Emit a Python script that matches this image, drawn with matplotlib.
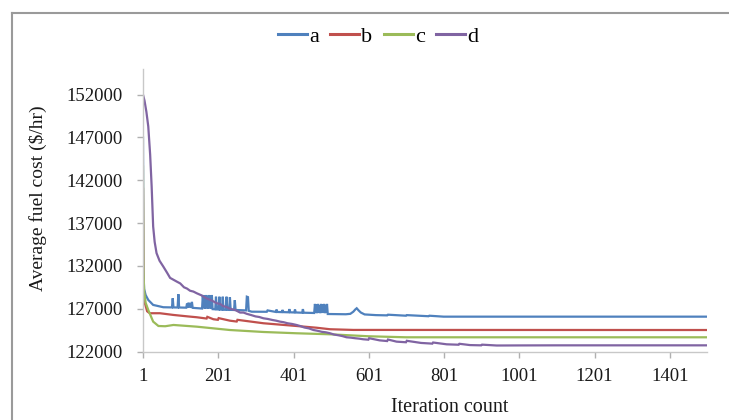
import matplotlib
matplotlib.use("Agg")
import matplotlib.pyplot as plt
from matplotlib.lines import Line2D

plt.rcParams['font.family'] = ['Liberation Serif', 'DejaVu Serif']

# ---------------- data ----------------
series_names = ["a", "b", "c", "d"]
series_colors = ["#4F81BD", "#C0504D", "#9BBB59", "#8064A2"]

a_iter = [1, 2, 4, 8, 15, 28, 55, 78, 80, 82, 93, 95, 97, 116, 118, 120, 122, 124, 126,
          129, 131, 133, 158, 160, 162, 164, 166, 168, 170, 172, 174, 176, 178, 180, 182,
          184, 186, 193, 195, 197, 202, 204, 206, 211, 213, 215, 221, 223, 225, 230, 232,
          234, 243, 245, 247, 275, 277, 280, 282, 290, 330, 332, 354, 356, 358, 370, 372,
          374, 388, 390, 392, 403, 405, 407, 424, 426, 428, 456, 458, 460, 462, 464, 466,
          468, 470, 472, 474, 476, 478, 480, 482, 484, 486, 488, 490, 492, 540, 552, 560,
          565, 569, 574, 580, 590, 620, 650, 652, 700, 702, 760, 762, 800, 1500]
a_vals = [147000, 131500, 129300, 128600, 128020, 127440, 127170, 127150, 128220, 127150,
          127140, 128700, 127140, 127120, 127600, 127150, 127700, 127150, 127650, 127100,
          127800, 127100, 127020, 128600, 127050, 128550, 127000, 128600, 127050, 128500,
          127000, 128600, 127050, 128550, 127000, 128600, 126950, 126930, 128400, 126930,
          126900, 128400, 126900, 126880, 128400, 126880, 126870, 128400, 126870, 126860,
          128350, 126860, 126850, 128000, 126850, 126800, 128400, 128350, 126750, 126650,
          126640, 126800, 126620, 126900, 126620, 126600, 126850, 126600, 126580, 126950,
          126580, 126560, 126900, 126560, 126530, 126950, 126530, 126500, 127560, 126500,
          127500, 126480, 127560, 126550, 127400, 126480, 127560, 126500, 127500, 126550,
          127560, 126480, 127450, 126500, 127560, 126380, 126350, 126400, 126650, 126900,
          127050, 126800, 126550, 126330, 126250, 126220, 126300, 126180, 126250, 126120,
          126180, 126070, 126070]

b_iter = [1, 2, 4, 6, 12, 19, 46, 82, 120, 144, 170, 172, 188, 200, 202, 232, 250, 252,
          321, 409, 462, 498, 560, 1500]
b_vals = [141000, 131000, 128200, 127640, 126700, 126470, 126470, 126270, 126100, 126000,
          125850, 126050, 125770, 125700, 125900, 125600, 125500, 125700, 125300, 124980,
          124780, 124600, 124520, 124510]

c_iter = [1, 2, 4, 8, 15, 28, 42, 60, 82, 144, 232, 321, 409, 498, 600, 700, 1500]
c_vals = [143600, 132000, 129000, 127700, 126850, 125490, 124980, 124950, 125100, 124900,
          124510, 124280, 124130, 124010, 123780, 123660, 123660]

d_iter = [1, 5, 10, 15, 20, 24, 28, 32, 37, 45, 55, 65, 73, 91, 100, 110, 118, 126, 135,
          144, 157, 170, 184, 197, 206, 214, 223, 232, 246, 259, 268, 277, 289, 300, 310,
          321, 333, 345, 355, 365, 375, 385, 397, 409, 420, 430, 442, 454, 465, 476, 487,
          498, 509, 520, 531, 542, 553, 565, 576, 586, 600, 602, 630, 650, 652, 675, 700,
          702, 740, 770, 772, 808, 840, 842, 870, 900, 902, 941, 1000, 1100, 1500]
d_vals = [152000, 151300, 150000, 148290, 145000, 141270, 136600, 134800, 133490, 132600,
          131920, 131200, 130600, 130160, 129950, 129500, 129350, 129100, 129000, 128800,
          128550, 128200, 127950, 127640, 127550, 127300, 127200, 127000, 126850, 126550,
          126550, 126400, 126250, 126100, 126030, 125880, 125800, 125680, 125600, 125490,
          125420, 125300, 125220, 125100, 124960, 124800, 124700, 124510, 124420, 124300,
          124240, 124130, 123980, 123900, 123800, 123660, 123620, 123550, 123500, 123430,
          123380, 123550, 123300, 123220, 123400, 123150, 123080, 123250, 123000, 122920,
          123050, 122840, 122790, 122900, 122750, 122720, 122800, 122700, 122710, 122720,
          122720]

x_ticks = [1, 201, 401, 601, 801, 1001, 1201, 1401]
y_ticks = [122000, 127000, 132000, 137000, 142000, 147000, 152000]
x_label = "Iteration count"
y_label = "Average fuel cost ($/hr)"

# ---------------- figure ----------------
fig = plt.figure(figsize=(7.29, 4.20), dpi=100)
ax = fig.add_axes([143/729, 1-351.5/420, (707-143)/729, (351.5-69)/420])

data = [(a_iter, a_vals), (b_iter, b_vals), (c_iter, c_vals), (d_iter, d_vals)]
for (xs, ys), name, col in zip(data, series_names, series_colors):
    ax.plot(xs, ys, color=col, lw=1.6, label=name, solid_joinstyle='miter')

ax.set_xlim(1, 1500)
ax.set_ylim(122000, 155000)
ax.set_xticks(x_ticks)
ax.set_xticklabels([str(v) for v in x_ticks])
ax.set_yticks(y_ticks)
ax.set_yticklabels([str(v) for v in y_ticks])

for s in ["top", "right"]:
    ax.spines[s].set_visible(False)
for s in ["left", "bottom"]:
    ax.spines[s].set_color("#c8c8c8")
    ax.spines[s].set_linewidth(1.0)
ax.tick_params(axis="both", direction="out", color="#b0b0b0", length=4, width=1,
               labelsize=13.5, labelcolor="#1a1a1a")
ax.tick_params(axis="y", pad=11)
ax.tick_params(axis="x", pad=8)

fig.text(38/729, 1-198/420, y_label, rotation=90, ha="center", va="center",
         fontsize=14, color="#1a1a1a")
fig.text(450/729, 1-408/420, x_label, ha="center", va="center",
         fontsize=14.5, color="#1a1a1a")

leg = fig.legend(loc="center", bbox_to_anchor=(378/729, 1-37/420), ncol=4, frameon=False,
                 fontsize=16, handlelength=1.3, handletextpad=0.1, columnspacing=0.5)
for h in leg.legend_handles:
    h.set_linewidth(2.2)

# chart border (only left and top visible in the crop)
fig.add_artist(Line2D([12/729, 12/729], [0, 1-12.5/420], transform=fig.transFigure,
                      color="#9a9a9a", lw=1.5))
fig.add_artist(Line2D([12/729, 1], [1-12.5/420, 1-12.5/420], transform=fig.transFigure,
                      color="#9a9a9a", lw=1.5))

fig.savefig("out.png", dpi=100)
